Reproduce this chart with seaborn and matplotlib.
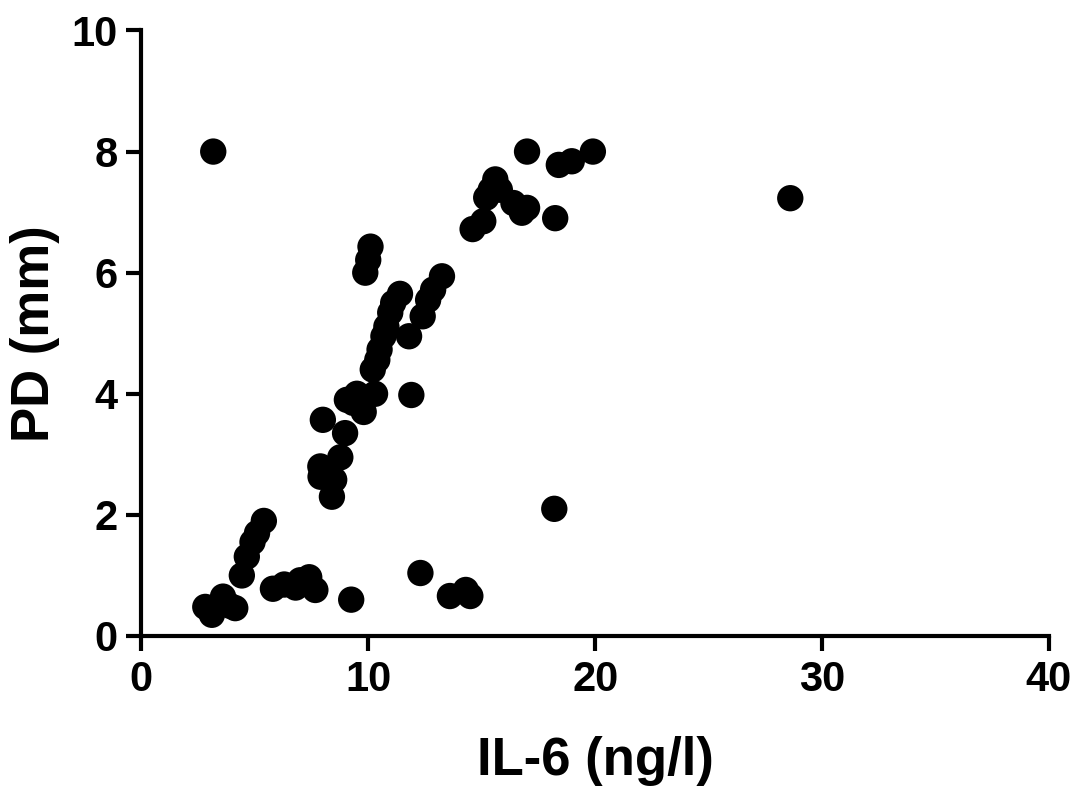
import matplotlib
matplotlib.use("Agg")
import matplotlib.pyplot as plt
import seaborn as sns
import pandas as pd

il6 = [3.17, 2.82, 3.11, 3.6, 4.14, 3.9, 4.43, 4.65, 4.9, 5.1, 5.4,
       5.8, 6.3, 6.8, 7.0, 7.4, 7.67, 9.25, 12.3, 13.6, 14.3, 14.5,
       8.4, 8.5, 7.89, 7.9, 8.77, 8.98, 8.0, 9.06, 9.34, 9.8, 9.5, 10.3,
       10.2, 10.4, 10.5, 10.67, 10.8, 10.97, 11.1, 11.4, 11.8, 11.9,
       12.4, 12.64, 12.86, 13.25, 10.1, 10.0, 9.87,
       14.6, 15.07, 15.2, 15.4, 15.6, 15.8, 16.4, 16.77, 17.0, 17.0,
       18.24, 18.4, 18.97, 19.9, 28.6, 18.2]
pd_mm = [8.0, 0.48, 0.35, 0.65, 0.46, 0.5, 1.0, 1.31, 1.55, 1.7, 1.9,
         0.78, 0.85, 0.8, 0.92, 0.97, 0.76, 0.6, 1.04, 0.66, 0.76, 0.66,
         2.3, 2.58, 2.8, 2.63, 2.95, 3.35, 3.57, 3.9, 3.85, 3.7, 4.0, 4.0,
         4.4, 4.56, 4.73, 4.95, 5.11, 5.34, 5.5, 5.65, 4.95, 3.98,
         5.28, 5.55, 5.72, 5.94, 6.43, 6.21, 6.0,
         6.72, 6.85, 7.24, 7.37, 7.54, 7.37, 7.15, 6.99, 7.07, 8.0,
         6.9, 7.78, 7.84, 8.0, 7.23, 2.1]

x_ticks = [0, 10, 20, 30, 40]
y_ticks = [0, 2, 4, 6, 8, 10]

df = pd.DataFrame({"IL-6 (ng/l)": il6, "PD (mm)": pd_mm})

sns.set_style("ticks")
plt.rcParams['font.family'] = ['Liberation Sans', 'DejaVu Sans']
plt.rcParams['font.weight'] = 'bold'

fig = plt.figure(figsize=(10.87, 8.02), dpi=100)
ax = fig.add_axes([0.13, 0.207, 0.835, 0.755])
sns.scatterplot(data=df, x="IL-6 (ng/l)", y="PD (mm)", ax=ax,
                color="black", s=360, edgecolor="none", clip_on=False, zorder=3)

ax.set_xlim(0, 40)
ax.set_ylim(0, 10)
ax.set_xticks(x_ticks)
ax.set_yticks(y_ticks)
sns.despine(ax=ax)
for sp in ["left", "bottom"]:
    ax.spines[sp].set_linewidth(3)
    ax.spines[sp].set_color("black")
ax.tick_params(axis="both", which="major", length=11, width=3, direction="out",
               labelsize=30, colors="black", pad=6, bottom=True, left=True)
for lab in ax.get_xticklabels() + ax.get_yticklabels():
    lab.set_fontweight("bold")
ax.set_xlabel("IL-6 (ng/l)", fontsize=38, fontweight="bold", labelpad=26, color="black")
ax.set_ylabel("PD (mm)", fontsize=38, fontweight="bold", labelpad=8, color="black")

fig.savefig("out.png", dpi=100, facecolor="white")
